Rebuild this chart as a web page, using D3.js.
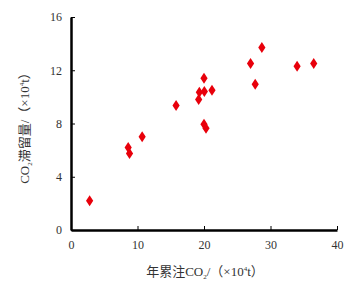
<!DOCTYPE html>
<html>
<head>
<meta charset="utf-8">
<script src="https://cdn.jsdelivr.net/npm/d3@7"></script>
<style>
body { margin:0; background:#fff; }
text { font-family: "Liberation Serif", "Noto Sans CJK SC", serif; }
</style>
</head>
<body>
<div id="chart"></div>
<script>
// annual cumulative injection vs retained CO2 (x10^4 t)
var injected = [2.8, 8.6, 8.8, 10.7, 15.8, 19.2, 19.3, 20.05, 20.0, 21.2, 20.0, 20.3, 27.0, 27.7, 28.7, 34.0, 36.5];
var retained = [2.2, 6.2, 5.75, 7.0, 9.35, 9.8, 10.35, 10.4, 11.4, 10.5, 7.95, 7.65, 12.5, 10.95, 13.7, 12.3, 12.5];
var xTicks = [0, 10, 20, 30, 40];
var yTicks = [0, 4, 8, 12, 16];

var width = 357, height = 294;
var margin = {top: 17, left: 71, right: 20, bottom: 64};

var svg = d3.select("#chart").append("svg")
	.attr("width", width)
	.attr("height", height);

var x = d3.scaleLinear().domain([0, 40]).range([margin.left, width - margin.right]);
var y = d3.scaleLinear().domain([0, 16]).range([height - margin.bottom, margin.top]);

var xAxis = svg.append("g")
	.attr("transform", "translate(0," + y(0) + ")")
	.call(d3.axisBottom(x).tickValues(xTicks).tickSizeInner(-4).tickSizeOuter(0).tickPadding(10));

var yAxis = svg.append("g")
	.attr("transform", "translate(" + x(0) + ",0)")
	.call(d3.axisLeft(y).tickValues(yTicks).tickSizeInner(-4).tickSizeOuter(0).tickPadding(9));

[xAxis, yAxis].forEach(function(a){
	a.select(".domain").attr("stroke", "#000").attr("stroke-width", 2.5);
	a.selectAll(".tick line").attr("stroke", "#000").attr("stroke-width", 1);
	a.selectAll(".tick text").attr("font-size", 12).attr("fill", "#333")
		.style("font-family", "Liberation Serif");
});

// diamonds
var pts = injected.map(function(d, i){ return {x: d, y: retained[i]}; });
svg.selectAll(".pt")
	.data(pts)
	.enter().append("path")
	.attr("class", "pt")
	.attr("d", "M0,-5.5L3.6,0L0,5.5L-3.6,0Z")
	.attr("fill", "#e8000b")
	.attr("transform", function(d){ return "translate(" + x(d.x) + "," + y(d.y) + ")"; });

// axis titles
var xl = svg.append("text")
	.attr("x", 205).attr("y", 276)
	.attr("text-anchor", "middle")
	.attr("font-size", 13).attr("fill", "#333");
xl.append("tspan").text("年累注CO");
xl.append("tspan").attr("font-size", 7).attr("dy", 3).text("2");
xl.append("tspan").attr("dy", -3).text("/（×10");
xl.append("tspan").attr("font-size", 7).attr("dy", -5).text("4");
xl.append("tspan").attr("dy", 5).text("t）");

var yl = svg.append("text")
	.attr("transform", "translate(29,125) rotate(-90)")
	.attr("text-anchor", "middle")
	.attr("font-size", 13).attr("fill", "#333");
yl.append("tspan").text("CO");
yl.append("tspan").attr("font-size", 7).attr("dy", 3).text("2");
yl.append("tspan").attr("dy", -3).text("滞留量/（×10");
yl.append("tspan").attr("font-size", 7).attr("dy", -5).text("4");
yl.append("tspan").attr("dy", 5).text("t）");
</script>
</body>
</html>
